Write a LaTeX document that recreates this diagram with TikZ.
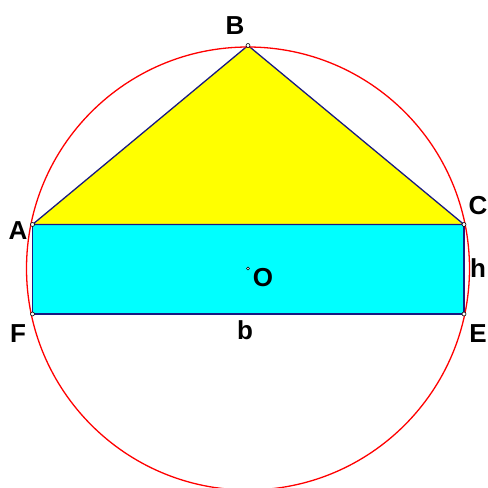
\documentclass[tikz,border=0pt]{standalone}
\usepackage{fontspec}
\setmainfont{Liberation Sans}
\usepackage{tikz}
\usetikzlibrary{positioning,calc}
\definecolor{edgeBlue}{HTML}{1A1A80}
\definecolor{triYellow}{HTML}{FFFF00}
\definecolor{rectCyan}{HTML}{00FFFF}
\definecolor{circRed}{HTML}{FF0000}

\begin{document}
\begin{tikzpicture}[
    x=1pt, y=-1pt,
    ptLabel/.style={font=\bfseries\fontsize{26}{26}\selectfont, inner sep=0pt},
    vertexDot/.style={circle, draw=black, fill=white, inner sep=0pt, minimum size=4pt, line width=0.6pt},
    edgeLine/.style={draw=edgeBlue, line width=1.3pt, line join=round}
]
    \useasboundingbox (0,0) rectangle (488,488);

    \coordinate (A) at (32.5, 224.5);
    \coordinate (B) at (248, 45.5);
    \coordinate (C) at (464, 224.5);
    \coordinate (E) at (464, 314);
    \coordinate (F) at (32.5, 314);
    \coordinate (O) at (248, 268.5);

    \fill[triYellow] (A) -- (B) -- (C) -- cycle;
    \fill[rectCyan] (A) rectangle (E);
    \draw[edgeLine] (A) -- (B) -- (C) -- cycle;
    \draw[edgeLine] (A) -- (C) -- (E) -- (F) -- cycle;

    \draw[circRed, line width=1.3pt] (O) circle[radius=221.5pt];

    \foreach \p in {A,B,C,E,F}
        \node[vertexDot] at (\p) {};
    \node[vertexDot, minimum size=3pt] (dotO) at (O) {};

    \node[ptLabel] (labB) at (235, 26) {B};
    \node[ptLabel] (labA) at (18, 231) {A};
    \node[ptLabel] (labC) at (478, 206) {C};
    \node[ptLabel] (labh) at (478, 268) {h};
    \node[ptLabel] (labE) at (478, 334) {E};
    \node[ptLabel] (labF) at (18, 334) {F};
    \node[ptLabel] (labb) at (245, 330) {b};
    \node[ptLabel] (labO) at (263, 278) {O};
\end{tikzpicture}
\end{document}
